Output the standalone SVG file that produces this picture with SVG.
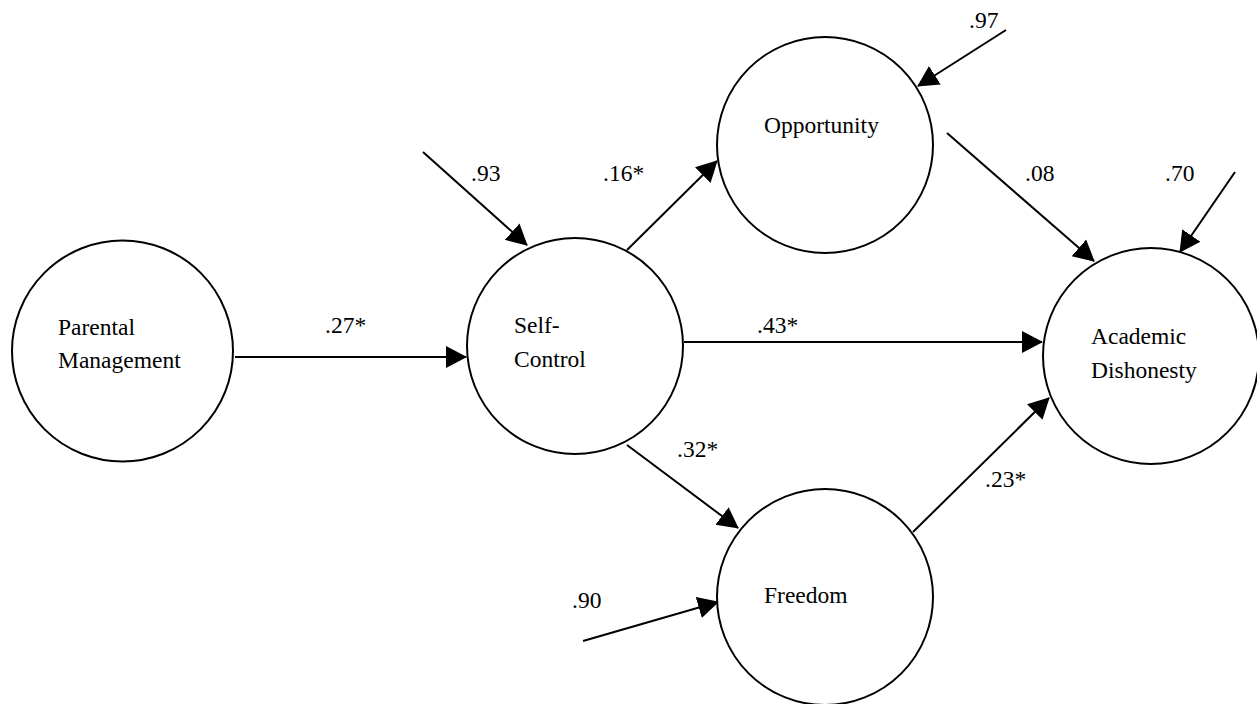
<svg xmlns="http://www.w3.org/2000/svg" width="1257" height="704" viewBox="0 0 1257 704">
<style>
.node{fill:#fff;stroke:#000;stroke-width:2}
.lbl{font-family:"Liberation Serif","Times New Roman",serif;font-size:23.5px;fill:#000}
.edge{stroke:#000;stroke-width:2;fill:none;marker-end:url(#ah)}
</style>
<defs>
<marker id="ah" markerUnits="userSpaceOnUse" markerWidth="22" markerHeight="24" viewBox="0 0 22 24" refX="20" refY="12" orient="auto">
<path d="M0,1 L21,12 L0,23 Z" fill="#000"/>
</marker>
</defs>
<rect width="1257" height="704" fill="#fff"/>
<g id="connectors">
<line class="edge" x1="235" y1="357" x2="466" y2="357"/>
<line class="edge" x1="423" y1="152" x2="527" y2="245"/>
<line class="edge" x1="627" y1="250" x2="717" y2="161"/>
<line class="edge" x1="684" y1="342" x2="1042" y2="342"/>
<line class="edge" x1="627" y1="445" x2="738" y2="528"/>
<line class="edge" x1="1006" y1="30" x2="918" y2="86"/>
<line class="edge" x1="947" y1="133" x2="1094" y2="261"/>
<line class="edge" x1="1235" y1="172" x2="1180" y2="252"/>
<line class="edge" x1="913" y1="532" x2="1049" y2="398"/>
<line class="edge" x1="583" y1="641" x2="718" y2="602"/>
</g>
<g id="parental">
<circle class="node" cx="122.5" cy="351" r="110.5"/>
<text class="lbl" x="58" y="335">Parental</text>
<text class="lbl" x="58" y="368">Management</text>
</g>
<g id="selfcontrol">
<circle class="node" cx="575" cy="346" r="108"/>
<text class="lbl" x="514" y="333">Self-</text>
<text class="lbl" x="514" y="367">Control</text>
</g>
<g id="opportunity">
<circle class="node" cx="825" cy="145" r="108"/>
<text class="lbl" x="764" y="133">Opportunity</text>
</g>
<g id="academic">
<circle class="node" cx="1151" cy="356" r="108"/>
<text class="lbl" x="1091" y="344">Academic</text>
<text class="lbl" x="1091" y="378">Dishonesty</text>
</g>
<g id="freedom">
<circle class="node" cx="825" cy="597" r="108"/>
<text class="lbl" x="764" y="603">Freedom</text>
</g>
<g id="labels">
<text class="lbl" x="325" y="333">.27*</text>
<text class="lbl" x="471" y="181">.93</text>
<text class="lbl" x="603" y="181">.16*</text>
<text class="lbl" x="757" y="333">.43*</text>
<text class="lbl" x="677" y="457">.32*</text>
<text class="lbl" x="969" y="28">.97</text>
<text class="lbl" x="1025" y="181">.08</text>
<text class="lbl" x="1165" y="181">.70</text>
<text class="lbl" x="985" y="487">.23*</text>
<text class="lbl" x="572" y="608">.90</text>
</g>
</svg>
